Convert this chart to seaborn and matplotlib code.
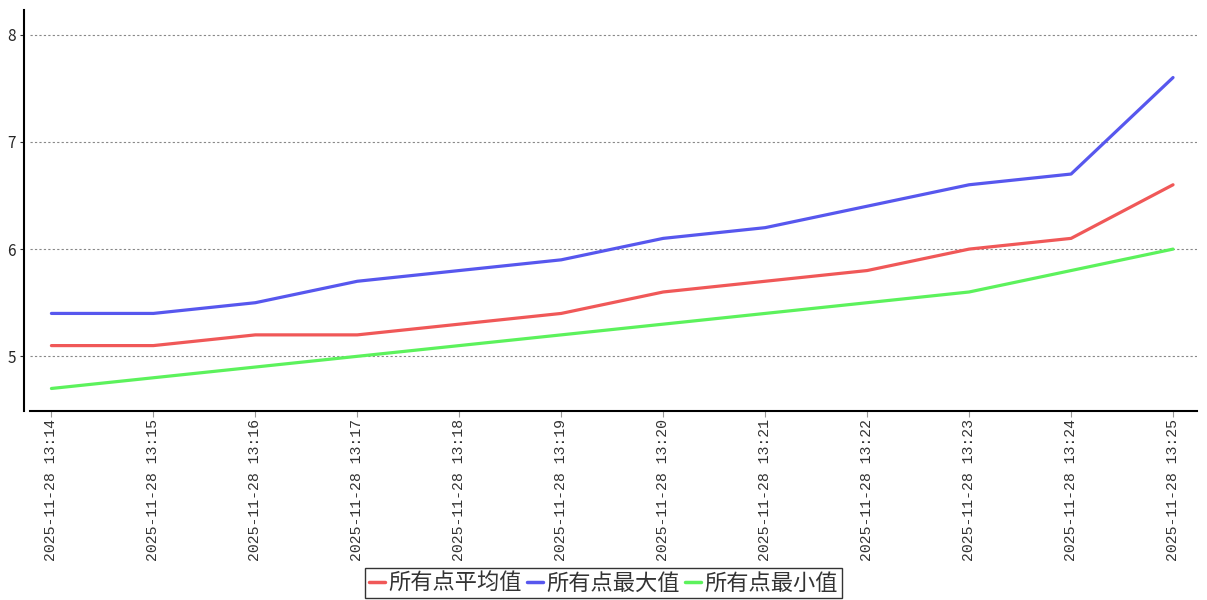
import matplotlib
matplotlib.use("Agg")
import matplotlib.pyplot as plt
import seaborn as sns
import pandas as pd

times = ["2025-11-28 13:14", "2025-11-28 13:15", "2025-11-28 13:16", "2025-11-28 13:17",
         "2025-11-28 13:18", "2025-11-28 13:19", "2025-11-28 13:20", "2025-11-28 13:21",
         "2025-11-28 13:22", "2025-11-28 13:23", "2025-11-28 13:24", "2025-11-28 13:25"]
avg_vals = [5.1, 5.1, 5.2, 5.2, 5.3, 5.4, 5.6, 5.7, 5.8, 6.0, 6.1, 6.6]
max_vals = [5.4, 5.4, 5.5, 5.7, 5.8, 5.9, 6.1, 6.2, 6.4, 6.6, 6.7, 7.6]
min_vals = [4.7, 4.8, 4.9, 5.0, 5.1, 5.2, 5.3, 5.4, 5.5, 5.6, 5.8, 6.0]
series_names = ["所有点平均值", "所有点最大值", "所有点最小值"]
colors = ["#f05858", "#5757ee", "#5cf25c"]

rows = []
for name, vals in zip(series_names, [avg_vals, max_vals, min_vals]):
    for i, v in enumerate(vals):
        rows.append({"idx": i, "value": v, "series": name})
df = pd.DataFrame(rows)

sns.set_theme(style="white")
plt.rcParams['font.family'] = ['Noto Sans CJK SC', 'DejaVu Sans']

fig = plt.figure(figsize=(12.07, 6.0), dpi=100)
ax = fig.add_axes([30/1207, 1 - 411/600, (1197 - 30)/1207, (411 - 10)/600])

sns.lineplot(data=df, x="idx", y="value", hue="series", hue_order=series_names,
             palette=colors, linewidth=2.3, ax=ax, legend=False)

ax.set_xlim(-0.21, 11.235)
ax.set_ylim(4.49, 8.23)
ax.set_xticks(range(len(times)))
ax.set_xticklabels(times, rotation=90, family="Liberation Mono", fontsize=10.7, color="#333333")
ax.set_yticks([5, 6, 7, 8])
ax.set_yticklabels(["5", "6", "7", "8"], family="DejaVu Serif", fontsize=11, color="#333333")
ax.set_xlabel("")
ax.set_ylabel("")
ax.yaxis.grid(True, linestyle=(0, (2, 2)), color="#888888", linewidth=0.8)
ax.xaxis.grid(False)
ax.tick_params(axis="x", length=4, width=0.8, color="#999999", pad=2, bottom=True)
ax.tick_params(axis="y", length=3, width=0.8, color="#333333", pad=3, left=True)

for s in ["top", "right"]:
    ax.spines[s].set_visible(False)
ax.spines["left"].set_position(("outward", 4))
ax.spines["left"].set_color("black")
ax.spines["left"].set_linewidth(1.5)
ax.spines["bottom"].set_color("black")
ax.spines["bottom"].set_linewidth(1.5)

handles = [plt.Line2D([], [], color=c, linewidth=2.5) for c in colors]
leg = fig.legend(handles, series_names, loc="lower center", bbox_to_anchor=(0.5, 0.0),
                 ncol=3, fontsize=16, frameon=True, fancybox=False, handlelength=0.75,
                 handletextpad=0.15, columnspacing=0.2, borderpad=0.15, borderaxespad=0.1)
leg.get_frame().set_edgecolor("black")
leg.get_frame().set_linewidth(1.0)
for t in leg.get_texts():
    t.set_color("#333333")

fig.savefig("out.png", dpi=100)
